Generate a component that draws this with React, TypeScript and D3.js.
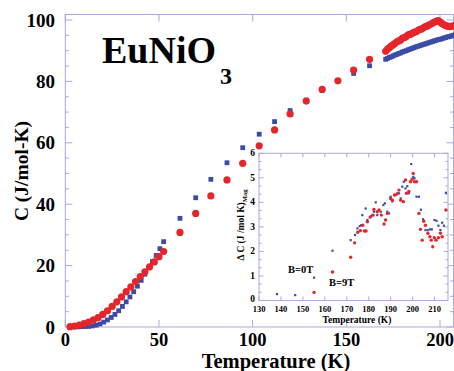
import React from "react";
import * as d3 from "d3";

// main plot: C (J/mol-K) vs T (K)
const lowT0 = [2.5, 4.5, 6.5, 8.5, 10.5, 12.5, 14.5, 16.5, 18.5, 20.5, 22.5, 24.5, 26.5, 28.5, 30.5, 32.5, 34.5, 36.5, 38.5, 40.5, 42.5, 44.5, 46.5, 48.5, 50.5, 52.5];
const lowC0 = [0, 0.05, 0.05, 0.1, 0.15, 0.2, 0.35, 0.6, 1.0, 1.6, 2.3, 3.1, 4.1, 5.3, 6.7, 8.2, 9.8, 11.5, 13.3, 15.2, 17.2, 19.3, 21.3, 23.3, 25.5, 27.8];
const lowT9 = [2.5, 5, 7.5, 10, 12.5, 15, 17.5, 20, 22.5, 25, 27.5, 30, 32.5, 35, 37.5, 40, 42.5, 45, 47.5, 50, 52.5];
const lowC9 = [0.1, 0.3, 0.6, 1.1, 1.6, 2.3, 3.1, 4.1, 5.3, 6.7, 8.2, 9.8, 11.5, 13.1, 14.8, 16.4, 18.0, 19.6, 21.2, 22.9, 24.6];

const midT = [61.2, 69.6, 77.7, 86.3, 94.7, 103.5, 111.7, 120, 128.6, 137.1, 145.5, 153.9, 162.4];
const midC0 = [35.4, 42.1, 48.1, 53.5, 58.4, 62.8, 66.9, 70.5, 73.9, 77.2, 80.2, 82.6, 85.1];
const midC9 = [30.8, 37.0, 42.7, 47.9, 53.3, 59.0, 64.2, 69.4, 73.6, 77.4, 80.2, 83.7, 87.2];

const hiT = [171, 172, 173, 174, 175, 176, 177, 178, 179, 180, 181, 182, 183, 184, 185, 186, 187, 188, 189, 190, 191, 192, 193, 194, 195, 196, 197, 198, 199, 200, 201, 202, 203, 204, 205, 206, 207, 208];
const hiC0 = [87.2, 87.5, 87.8, 88.0, 88.3, 88.6, 88.8, 89.1, 89.3, 89.6, 89.8, 90.0, 90.3, 90.5, 90.7, 91.0, 91.2, 91.4, 91.6, 91.8, 92.0, 92.2, 92.4, 92.6, 92.8, 93.0, 93.2, 93.4, 93.6, 93.7, 93.9, 94.1, 94.3, 94.5, 94.6, 94.8, 95.0, 95.2];
const hiC9 = [89.8, 90.5, 91.0, 91.6, 91.9, 92.4, 92.9, 93.2, 93.5, 94.1, 94.3, 94.6, 95.2, 95.3, 95.6, 96.0, 96.1, 96.5, 96.9, 97.0, 97.4, 97.8, 98.0, 98.3, 98.6, 99.0, 99.3, 99.6, 99.8, 99.4, 98.9, 98.5, 98.2, 98.0, 97.8, 97.9, 98.1, 98.2];

const mainXTicks = [0, 50, 100, 150, 200];
const mainYTicks = [0, 20, 40, 60, 80, 100];

// inset: delta C magnetic
const insT0 = [138.2, 146.5, 155.1, 163.5, 171.8, 173.8, 174.9, 175.9, 176.6, 177.1, 178.6, 179.4, 180.5, 181.7, 182.4, 183.2, 183.9, 185.5, 186.7, 187.4, 188.5, 189.3, 190, 190.8, 192.3, 193.8, 194.6, 195.3, 196, 196.8, 197.6, 198.3, 199.4, 200.3, 200.9, 201.8, 202.9, 203.8, 204.8, 205.9, 206.9, 208, 208.8, 210, 210.9, 211.8, 212.7, 213.5, 214.3, 215.2];
const insD0 = [0.26, 0.22, 0.93, 2.03, 2.46, 2.67, 2.94, 3.03, 3.07, 3.48, 3.75, 3.28, 3.38, 3.48, 3.62, 4.0, 3.48, 3.62, 3.89, 3.96, 3.62, 3.55, 4.23, 4.04, 4.3, 4.37, 4.16, 4.64, 4.84, 4.57, 4.66, 4.37, 5.56, 5.04, 4.98, 4.23, 4.23, 3.7, 3.31, 2.87, 2.87, 2.9, 2.9, 3.28, 3.25, 3.05, 2.87, 3.17, 3.05, 4.39];
const insT9 = [155.1, 163.5, 171.8, 173.6, 175, 176.2, 177.3, 178, 178.8, 179.4, 180.9, 182, 182.4, 183.9, 184.7, 185.8, 187, 187.7, 188.5, 190, 190.8, 191.8, 193, 193.8, 194.6, 195.8, 196.8, 197.2, 198.3, 199.1, 199.8, 200.3, 200.9, 201.8, 202.9, 203.6, 204.4, 205.1, 205.9, 207, 207.9, 208.5, 209.2, 209.9, 210.7, 211.8, 212.7, 213.5, 215.2];
const insD9 = [0.33, 1.16, 1.76, 2.35, 2.78, 2.85, 3.07, 2.83, 2.83, 3.21, 3.42, 3.48, 3.71, 3.62, 3.69, 3.48, 3.12, 3.28, 3.55, 4.16, 4.09, 4.3, 4.35, 4.5, 4.09, 4.03, 4.91, 4.37, 4.44, 4.84, 4.94, 5.18, 4.84, 4.84, 3.55, 2.9, 2.46, 3.23, 3.07, 2.74, 2.6, 2.46, 2.19, 2.56, 2.46, 2.56, 2.74, 2.6, 3.69];

const insXTicks = [130, 140, 150, 160, 170, 180, 190, 200, 210];
const insYTicks = [0, 1, 2, 3, 4, 5, 6];

const RED = "#e4262b";
const BLUE = "#3a4ca6";
const FRAME = "#a9a9de";
const FONT = "'Liberation Serif', 'Times New Roman', serif";

export default function App() {
  const x = d3.scaleLinear().domain([0, 200]).range([65.3, 440]);
  const y = d3.scaleLinear().domain([0, 100]).range([327, 20]);
  const left = 65.3, right = 453.5, top = 14.5, bottom = 327;

  const ix = d3.scaleLinear().domain([130, 210]).range([259, 434.5]);
  const iy = d3.scaleLinear().domain([0, 6]).range([300.5, 153.3]);
  const il = 259, ir = 448, it = 153.3, ib = 300.5;

  const blueT = [...lowT0, ...midT, ...hiT];
  const blueC = [...lowC0, ...midC0, ...hiC0];
  const redT = [...lowT9, ...midT, ...hiT];
  const redC = [...lowC9, ...midC9, ...hiC9];

  const minorY = d3.range(0, 101, 5);
  const insMinorY = d3.range(0, 19).map(i => i / 3);

  return (
    <div style={{ position: "absolute", left: 0, top: 0 }}>
      <svg width={454} height={371} style={{ display: "block", background: "#fff" }} fontFamily={FONT} fontWeight="bold">
        {/* main frame */}
        <rect x={left} y={top} width={right - left} height={bottom - top} fill="none" stroke={FRAME} strokeWidth={1} />
        {minorY.map(v => {
          const len = v % 20 === 0 ? 7 : 3.5;
          return (
            <g key={"my" + v} stroke={FRAME}>
              <line x1={left} x2={left + len} y1={y(v)} y2={y(v)} />
              <line x1={right} x2={right - len} y1={y(v)} y2={y(v)} />
            </g>
          );
        })}
        {mainXTicks.map(v => (
          <g key={"mx" + v} stroke={FRAME}>
            <line x1={x(v)} x2={x(v)} y1={bottom} y2={bottom - 7} />
            <line x1={x(v)} x2={x(v)} y1={top} y2={top + 7} />
          </g>
        ))}
        {mainYTicks.map(v => (
          <text key={"myl" + v} x={55} y={y(v) + 6.5} textAnchor="end" fontSize={19}>{v}</text>
        ))}
        {mainXTicks.map(v => (
          <text key={"mxl" + v} x={x(v)} y={346} textAnchor="middle" fontSize={18.5}>{v}</text>
        ))}
        <text x={276} y={368} textAnchor="middle" fontSize={20.5}>Temperature (K)</text>
        <text transform="translate(28,171) rotate(-90)" textAnchor="middle" fontSize={19.5}>C (J/mol-K)</text>

        {/* title */}
        <text x={102} y={63} fontSize={38}>EuNiO</text>
        <text x={220} y={84} fontSize={24}>3</text>

        {/* main data */}
        {blueT.map((t, i) => (
          <rect key={"b" + i} x={x(t) - 2.4} y={y(blueC[i]) - 2.4} width={4.8} height={4.8} fill={BLUE} />
        ))}
        {redT.map((t, i) => (
          <circle key={"r" + i} cx={x(t)} cy={y(redC[i])} r={3.6} fill={RED} />
        ))}

        {/* inset */}
        <rect x={il} y={it} width={ir - il} height={ib - it} fill="#fff" stroke={FRAME} strokeWidth={1} />
        {insMinorY.map((v, i) => {
          const len = i % 3 === 0 ? 4.5 : 2.5;
          return (
            <g key={"iy" + i} stroke={FRAME}>
              <line x1={il} x2={il + len} y1={iy(v)} y2={iy(v)} />
              <line x1={ir} x2={ir - len} y1={iy(v)} y2={iy(v)} />
            </g>
          );
        })}
        {insXTicks.map(v => (
          <g key={"ix" + v} stroke={FRAME}>
            <line x1={ix(v)} x2={ix(v)} y1={ib} y2={ib - 4} />
            <line x1={ix(v)} x2={ix(v)} y1={it} y2={it + 4} />
          </g>
        ))}
        {insYTicks.map(v => (
          <text key={"iyl" + v} x={255} y={iy(v) + (v === 0 ? 1 : 3)} textAnchor="end" fontSize={9.5}>{v}</text>
        ))}
        {insXTicks.map(v => (
          <text key={"ixl" + v} x={ix(v)} y={311.5} textAnchor="middle" fontSize={8.5}>{v}</text>
        ))}
        <text x={357} y={322.5} textAnchor="middle" fontSize={9.5}>Temperature (K)</text>
        <text transform="translate(244,225) rotate(-90)" textAnchor="middle" fontSize={9.5}>
          Δ C (J /mol K)<tspan fontSize={6.5} dy={2.5}>Mag</tspan>
        </text>
        <text x={288} y={272.5} fontSize={10.5}>B=0T</text>
        <text x={329} y={286} fontSize={10.5}>B=9T</text>

        {insT0.map((t, i) => (
          <rect key={"ib" + i} x={ix(t) - 1.1} y={iy(insD0[i]) - 1.1} width={2.2} height={2.2} fill={BLUE} />
        ))}
        {insT9.map((t, i) => (
          <circle key={"ir" + i} cx={ix(t)} cy={iy(insD9[i])} r={1.7} fill={RED} />
        ))}
      </svg>
    </div>
  );
}
